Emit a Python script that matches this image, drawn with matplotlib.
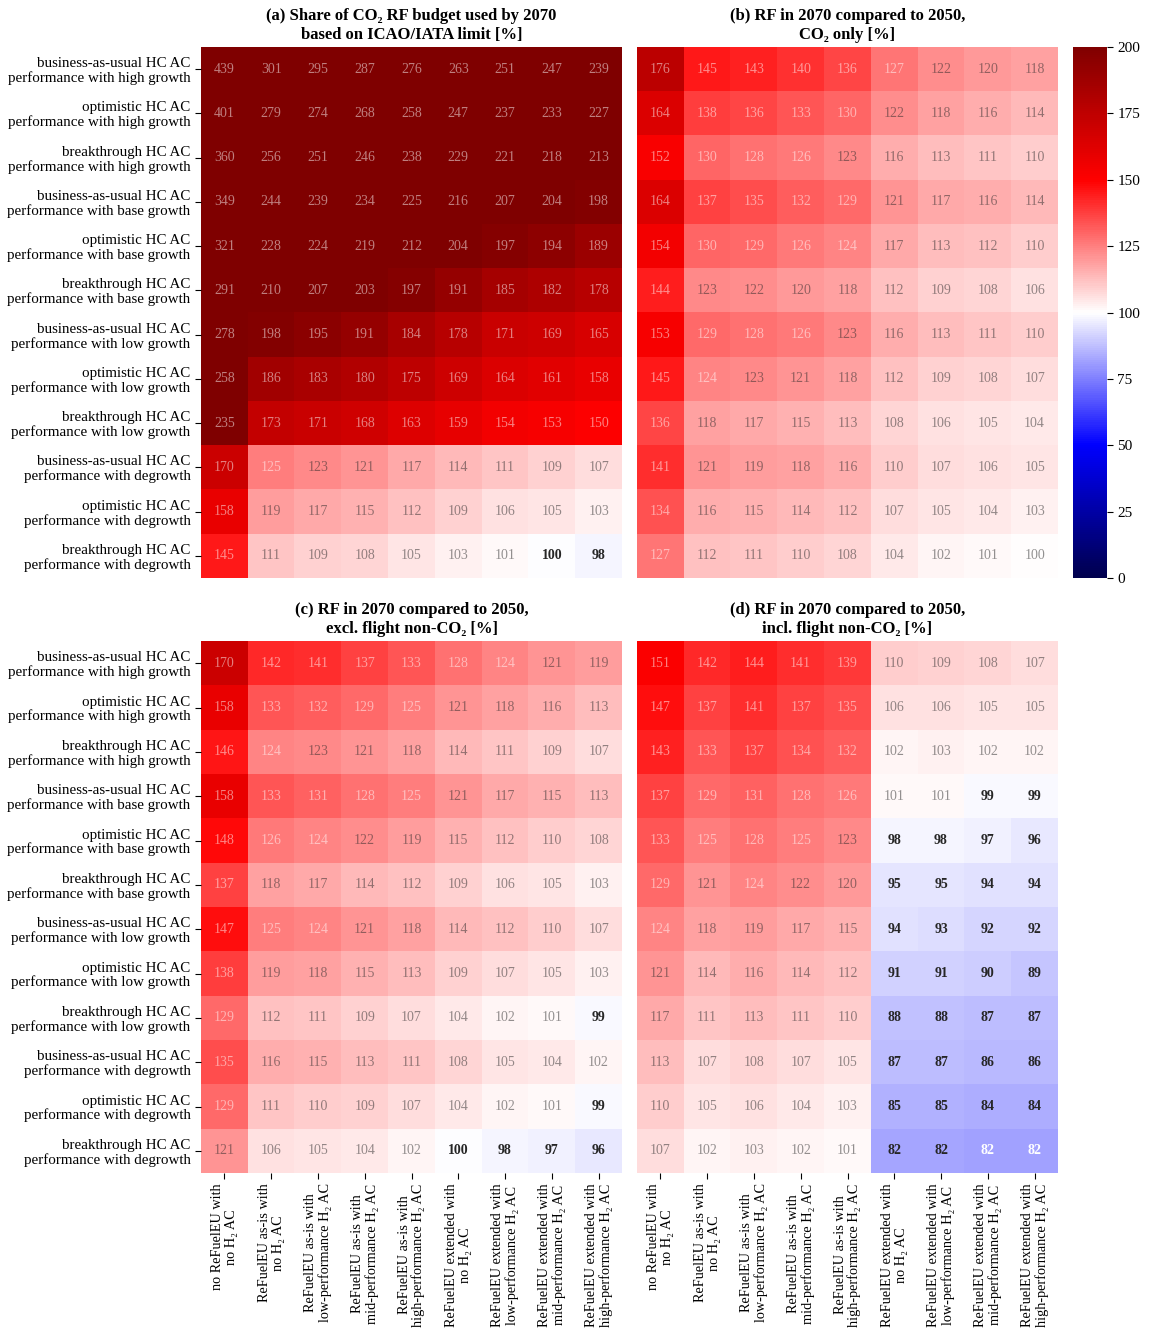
import numpy as np
import matplotlib
matplotlib.use("Agg")
from matplotlib import pyplot as plt
from matplotlib.colors import Normalize

plt.rcParams['font.family'] = ['Liberation Serif', 'DejaVu Serif']

row_labels = [
    "business-as-usual HC AC\nperformance with high growth",
    "optimistic HC AC\nperformance with high growth",
    "breakthrough HC AC\nperformance with high growth",
    "business-as-usual HC AC\nperformance with base growth",
    "optimistic HC AC\nperformance with base growth",
    "breakthrough HC AC\nperformance with base growth",
    "business-as-usual HC AC\nperformance with low growth",
    "optimistic HC AC\nperformance with low growth",
    "breakthrough HC AC\nperformance with low growth",
    "business-as-usual HC AC\nperformance with degrowth",
    "optimistic HC AC\nperformance with degrowth",
    "breakthrough HC AC\nperformance with degrowth",
]
col_labels = [
    "no ReFuelEU with\nno H₂ AC",
    "ReFuelEU as-is with\nno H₂ AC",
    "ReFuelEU as-is with\nlow-performance H₂ AC",
    "ReFuelEU as-is with\nmid-performance H₂ AC",
    "ReFuelEU as-is with\nhigh-performance H₂ AC",
    "ReFuelEU extended with\nno H₂ AC",
    "ReFuelEU extended with\nlow-performance H₂ AC",
    "ReFuelEU extended with\nmid-performance H₂ AC",
    "ReFuelEU extended with\nhigh-performance H₂ AC",
]

titles = [
    "(a) Share of CO₂ RF budget used by 2070\nbased on ICAO/IATA limit [%]",
    "(b) RF in 2070 compared to 2050,\nCO₂ only [%]",
    "(c) RF in 2070 compared to 2050,\nexcl. flight non-CO₂ [%]",
    "(d) RF in 2070 compared to 2050,\nincl. flight non-CO₂ [%]",
]

budget_share = [
    [439, 301, 295, 287, 276, 263, 251, 247, 239],
    [401, 279, 274, 268, 258, 247, 237, 233, 227],
    [360, 256, 251, 246, 238, 229, 221, 218, 213],
    [349, 244, 239, 234, 225, 216, 207, 204, 198],
    [321, 228, 224, 219, 212, 204, 197, 194, 189],
    [291, 210, 207, 203, 197, 191, 185, 182, 178],
    [278, 198, 195, 191, 184, 178, 171, 169, 165],
    [258, 186, 183, 180, 175, 169, 164, 161, 158],
    [235, 173, 171, 168, 163, 159, 154, 153, 150],
    [170, 125, 123, 121, 117, 114, 111, 109, 107],
    [158, 119, 117, 115, 112, 109, 106, 105, 103],
    [145, 111, 109, 108, 105, 103, 101, 99.6, 98],
]
rf_co2_only = [
    [176, 145, 143, 140, 136, 127, 122, 120, 118],
    [164, 138, 136, 133, 130, 122, 118, 116, 114],
    [152, 130, 128, 126, 123, 116, 113, 111, 110],
    [164, 137, 135, 132, 129, 121, 117, 116, 114],
    [154, 130, 129, 126, 124, 117, 113, 112, 110],
    [144, 123, 122, 120, 118, 112, 109, 108, 106],
    [153, 129, 128, 126, 123, 116, 113, 111, 110],
    [145, 124, 123, 121, 118, 112, 109, 108, 107],
    [136, 118, 117, 115, 113, 108, 106, 105, 104],
    [141, 121, 119, 118, 116, 110, 107, 106, 105],
    [134, 116, 115, 114, 112, 107, 105, 104, 103],
    [127, 112, 111, 110, 108, 104, 102, 101, 100.3],
]
rf_excl_nonco2 = [
    [170, 142, 141, 137, 133, 128, 124, 121, 119],
    [158, 133, 132, 129, 125, 121, 118, 116, 113],
    [146, 124, 123, 121, 118, 114, 111, 109, 107],
    [158, 133, 131, 128, 125, 121, 117, 115, 113],
    [148, 126, 124, 122, 119, 115, 112, 110, 108],
    [137, 118, 117, 114, 112, 109, 106, 105, 103],
    [147, 125, 124, 121, 118, 114, 112, 110, 107],
    [138, 119, 118, 115, 113, 109, 107, 105, 103],
    [129, 112, 111, 109, 107, 104, 102, 101, 99],
    [135, 116, 115, 113, 111, 108, 105, 104, 102],
    [129, 111, 110, 109, 107, 104, 102, 101, 99],
    [121, 106, 105, 104, 102, 99.7, 98, 97, 96],
]
rf_incl_nonco2 = [
    [151, 142, 144, 141, 139, 110, 109, 108, 107],
    [147, 137, 141, 137, 135, 106, 106, 105, 105],
    [143, 133, 137, 134, 132, 102, 103, 102, 102],
    [137, 129, 131, 128, 126, 101, 101, 99, 99],
    [133, 125, 128, 125, 123, 98, 98, 97, 96],
    [129, 121, 124, 122, 120, 95, 95, 94, 94],
    [124, 118, 119, 117, 115, 94, 93, 92, 92],
    [121, 114, 116, 114, 112, 91, 91, 90, 89],
    [117, 111, 113, 111, 110, 88, 88, 87, 87],
    [113, 107, 108, 107, 105, 87, 87, 86, 86],
    [110, 105, 106, 104, 103, 85, 85, 84, 84],
    [107, 102, 103, 102, 101, 82.2, 82.2, 81.6, 81.6],
]

panels = [budget_share, rf_co2_only, rf_excl_nonco2, rf_incl_nonco2]

cmap = plt.get_cmap('seismic')
norm = Normalize(vmin=0, vmax=200)


def luminance(rgba):
    # same rule seaborn uses to pick dark or light annotation text
    c = np.array(rgba[:3])
    c = np.where(c <= 0.03928, c / 12.92, ((c + 0.055) / 1.055) ** 2.4)
    return 0.2126 * c[0] + 0.7152 * c[1] + 0.0722 * c[2]


fig = plt.figure(figsize=(11.5, 13.36), dpi=100)
W, H = 1150, 1336
# heatmap boxes in pixels: left, top, right, bottom
boxes = [(201, 47, 622, 578), (637, 47, 1058, 578),
         (201, 641, 622, 1173), (637, 641, 1058, 1173)]

im = None
for k, (data, box) in enumerate(zip(panels, boxes)):
    l, t, r, b = box
    ax = fig.add_axes([l / W, 1 - b / H, (r - l) / W, (b - t) / H])
    arr = np.array(data, dtype=float)
    im = ax.imshow(arr, cmap=cmap, norm=norm, aspect='auto', interpolation='nearest')
    for i in range(arr.shape[0]):
        for j in range(arr.shape[1]):
            v = arr[i, j]
            col = '.15' if luminance(cmap(norm(v))) > 0.408 else 'w'
            if v < 100:
                ax.text(j, i, f"{v:.0f}", ha='center', va='center', fontsize=10,
                        color=col, fontweight='bold')
            else:
                ax.text(j, i, f"{v:.0f}", ha='center', va='center', fontsize=10,
                        color=col, alpha=0.5)
    for s in ax.spines.values():
        s.set_visible(False)
    ax.set_title(titles[k], fontsize=12, fontweight='bold', pad=6, linespacing=1.2)
    if k in (0, 2):
        ax.set_yticks(range(12))
        ax.set_yticklabels(row_labels, fontsize=10.8, linespacing=1.1)
    else:
        ax.set_yticks([])
    if k in (2, 3):
        ax.set_xticks(range(9))
        ax.set_xticklabels(col_labels, rotation=90, fontsize=10.3, linespacing=1.1,
                           ha='center', va='top', multialignment='center')
    else:
        ax.set_xticks([])
    ax.tick_params(length=4, width=0.8)

cax = fig.add_axes([1073 / W, 1 - 578 / H, 34 / W, 531 / H])
cb = fig.colorbar(im, cax=cax, ticks=range(0, 201, 25))
cb.outline.set_visible(False)
cb.ax.tick_params(labelsize=11, length=4, width=0.8)

fig.savefig("out.png", dpi=100)
